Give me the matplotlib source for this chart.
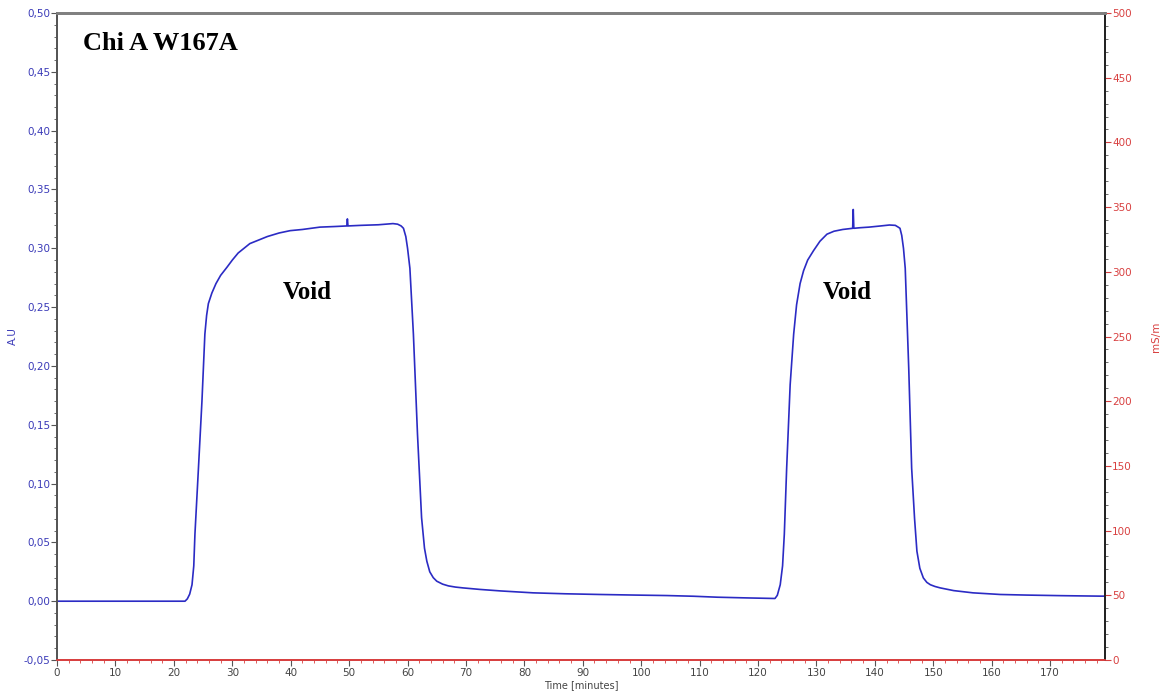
import numpy as np
import matplotlib.pyplot as plt
from matplotlib.ticker import MultipleLocator, FuncFormatter

# chromatogram trace: time [min] / absorbance [A.U]
time_min = [0.0, 5.0, 10.0, 15.0, 21.9, 22.3, 22.7, 23.1, 23.4, 23.6, 24.2,
            24.8, 25.3, 25.6, 25.9, 26.5, 27.2, 28.0, 29.1, 30.0, 31.0, 32.0,
            33.0, 34.5, 36.0, 38.0, 39.9, 42.0, 45.0, 47.5, 49.6, 49.7, 49.8,
            52.0, 55.0, 57.5, 58.3, 58.9, 59.3, 59.7, 60.0, 60.4, 61.0, 61.7,
            62.4, 62.9, 63.3, 63.8, 64.4, 65.0, 66.0, 67.0, 68.2, 69.5, 72.4,
            76.0, 81.5, 87.0, 93.0, 99.0, 104.4, 109.0, 113.0, 118.0, 122.9,
            123.3, 123.8, 124.2, 124.5, 124.9, 125.5, 126.1, 126.6, 127.2,
            127.8, 128.5, 129.5, 130.6, 131.8, 133.0, 134.5, 136.2, 136.3,
            136.4, 137.5, 139.0, 141.0, 142.5, 143.5, 144.0, 144.3, 144.6,
            144.9, 145.2, 145.8, 146.3, 146.8, 147.2, 147.7, 148.3, 148.9,
            149.5, 150.3, 151.2, 153.5, 156.8, 161.5, 166.0, 172.0, 178.6,
            179.4]
absorb = [0.000, 0.000, 0.000, 0.000, 0.000, 0.002, 0.006, 0.014, 0.030,
          0.057, 0.113, 0.170, 0.227, 0.243, 0.253, 0.262, 0.270, 0.277,
          0.284, 0.290, 0.296, 0.300, 0.304, 0.307, 0.310, 0.313, 0.315,
          0.316, 0.318, 0.3185, 0.319, 0.325, 0.319, 0.3195, 0.320, 0.321,
          0.3205, 0.319, 0.317, 0.310, 0.300, 0.283, 0.227, 0.142, 0.071,
          0.045, 0.034, 0.025, 0.020, 0.017, 0.0145, 0.013, 0.012, 0.0113,
          0.0100, 0.0087, 0.0071, 0.0063, 0.0057, 0.0052, 0.0048, 0.0042,
          0.0034, 0.0028, 0.0023, 0.005, 0.014, 0.030, 0.057, 0.113, 0.184,
          0.227, 0.252, 0.270, 0.281, 0.290, 0.298, 0.306, 0.312, 0.3145,
          0.316, 0.317, 0.333, 0.317, 0.3175, 0.318, 0.319, 0.3198, 0.3195,
          0.318, 0.317, 0.311, 0.300, 0.283, 0.198, 0.113, 0.070, 0.0425,
          0.028, 0.0198, 0.016, 0.014, 0.0125, 0.0113, 0.0090, 0.0071,
          0.0057, 0.0052, 0.0047, 0.0043, 0.0043]

title_text = 'Chi A W167A'
void_labels = ['Void', 'Void']
void_time = [42.8, 135.3]
void_level = [0.262, 0.262]

blue = '#3a3ab8'
red = '#d84040'

fig = plt.figure(figsize=(11.65, 6.93), dpi=100)
ax = fig.add_axes([0.049, 0.0476, 0.8995, 0.9336])
ax2 = ax.twinx()

ax.plot(time_min, absorb, color='#2b2bc4', lw=1.2)

ax.set_xlim(0, 179.4)
ax.set_ylim(-0.05, 0.50)
ax2.set_ylim(0, 500)

comma = FuncFormatter(lambda v, p: f'{v:.2f}'.replace('.', ','))
ax.yaxis.set_major_locator(MultipleLocator(0.05))
ax.yaxis.set_minor_locator(MultipleLocator(0.01))
ax.yaxis.set_major_formatter(comma)
ax.xaxis.set_major_locator(MultipleLocator(10))
ax.xaxis.set_minor_locator(MultipleLocator(2))
ax2.yaxis.set_major_locator(MultipleLocator(50))
ax2.yaxis.set_minor_locator(MultipleLocator(10))

ax.tick_params(axis='y', which='major', labelsize=7.5, labelcolor=blue,
               color='#555555', length=4, pad=1)
ax.tick_params(axis='y', which='minor', color='#555555', length=2)
ax.tick_params(axis='x', which='major', labelsize=7.5, labelcolor='#444444',
               color='#555555', length=4, pad=2)
ax.tick_params(axis='x', which='minor', color=red, length=2)
ax2.tick_params(axis='y', which='major', labelsize=7.5, labelcolor=red,
                color=red, length=4, pad=1)
ax2.tick_params(axis='y', which='minor', color='#555555', length=2)

for a in (ax, ax2):
    a.spines['top'].set_color('#808080')
    a.spines['top'].set_linewidth(2)
    a.spines['left'].set_color('#555555')
    a.spines['left'].set_linewidth(1.3)
    a.spines['right'].set_color('#222222')
    a.spines['right'].set_linewidth(1.3)
    a.spines['bottom'].set_color(red)
    a.spines['bottom'].set_linewidth(1.3)

ax.set_ylabel('A.U', color=blue, fontsize=7.5, labelpad=4)
ax2.set_ylabel('mS/m', color=red, fontsize=7.5, labelpad=14, rotation=90)
ax.set_xlabel('Time [minutes]', color='#444444', fontsize=7, labelpad=1)

ax.text(4.5, 0.474, title_text, fontsize=19, fontweight='bold',
        family='Liberation Serif', va='center', ha='left')
for lab, t, v in zip(void_labels, void_time, void_level):
    ax.text(t, v, lab, fontsize=18, fontweight='bold',
            family='Liberation Serif', va='center', ha='center')

fig.savefig('out.png', dpi=100)
